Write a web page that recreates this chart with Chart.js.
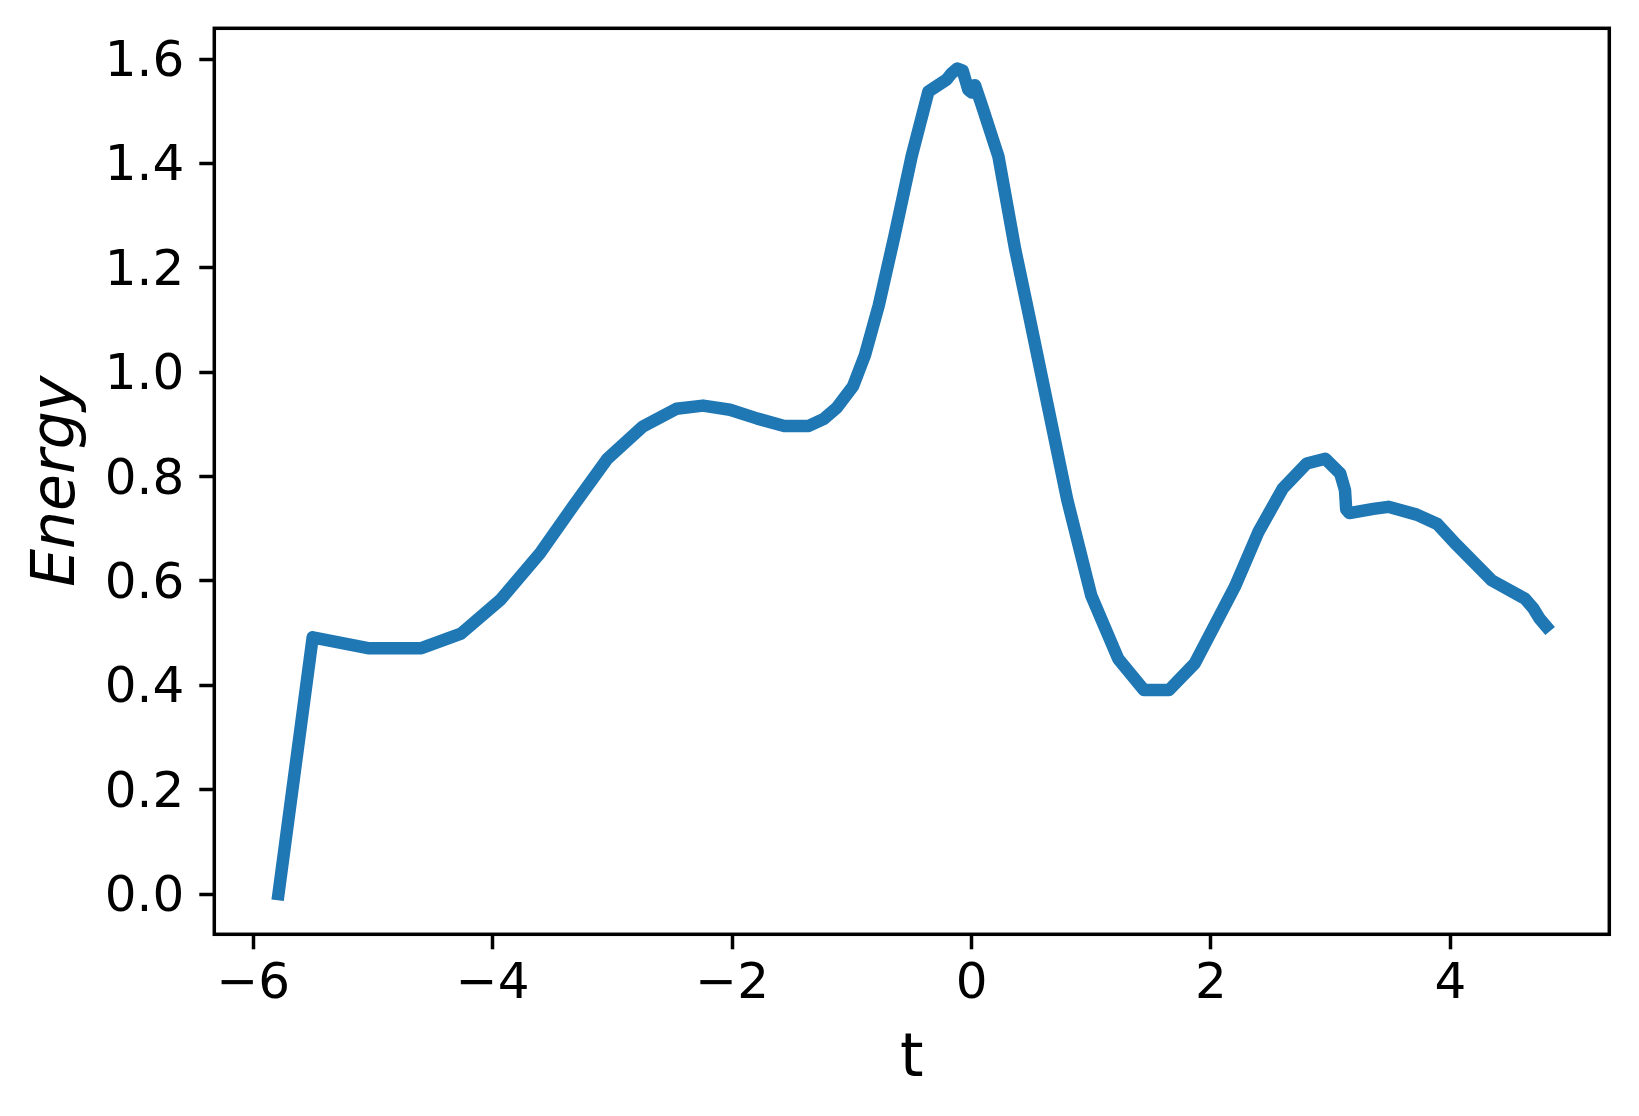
<!DOCTYPE html>
<html>
<head>
<meta charset="utf-8">
<script src="https://cdn.jsdelivr.net/npm/chart.js@4.4.0/dist/chart.umd.min.js"></script>
<style>
html,body{margin:0;padding:0;background:#fff;}
canvas{display:block;}
</style>
</head>
<body>
<canvas id="c" width="1639" height="1116"></canvas>
<script>
// ---- data ----
const tValues = [
  -5.79, -5.504, -5.042, -4.596, -4.265, -3.935, -3.605, -3.323, -3.043, -2.745,
  -2.465, -2.243, -2.018, -1.788, -1.565, -1.36, -1.238, -1.126, -0.99, -0.89,
  -0.775, -0.645, -0.50, -0.36, -0.207, -0.165, -0.119, -0.074, -0.027, 0.002,
  0.029, 0.085, 0.225, 0.365, 0.495, 0.80, 1.00, 1.225, 1.44, 1.65,
  1.865, 2.20, 2.397, 2.60, 2.80, 2.955, 3.08, 3.12, 3.13, 3.157,
  3.357, 3.482, 3.719, 3.891, 4.053, 4.346, 4.624, 4.694, 4.745, 4.80
];
const energyValues = [
  0.0, 0.492, 0.471, 0.471, 0.499, 0.564, 0.653, 0.745, 0.834, 0.896,
  0.930, 0.936, 0.928, 0.911, 0.897, 0.897, 0.910, 0.932, 0.973, 1.033,
  1.128, 1.260, 1.414, 1.538, 1.561, 1.573, 1.582, 1.578, 1.541, 1.536,
  1.550, 1.512, 1.413, 1.235, 1.093, 0.755, 0.572, 0.451, 0.391, 0.391,
  0.442, 0.589, 0.694, 0.777, 0.825, 0.834, 0.806, 0.774, 0.737, 0.730,
  0.738, 0.742, 0.727, 0.709, 0.669, 0.601, 0.566, 0.547, 0.528, 0.513
];
const xTicks = [-6, -4, -2, 0, 2, 4];
const yTicks = [0.0, 0.2, 0.4, 0.6, 0.8, 1.0, 1.2, 1.4, 1.6];
const xRange = [-6.326, 5.328];
const yRange = [-0.0772, 1.659];
const xLabel = 't';
const yLabel = 'Energy';
const seriesLabel = 'Energy';

Chart.defaults.font.family = "'DejaVu Sans', sans-serif";

const framePlugin = {
  id: 'frame',
  afterDatasetsDraw(chart) {
    const {ctx, chartArea: a} = chart;
    ctx.save();
    ctx.strokeStyle = '#000';
    ctx.lineWidth = 3.5;
    ctx.strokeRect(a.left, a.top, a.right - a.left, a.bottom - a.top);
    ctx.restore();
  }
};

const fmtX = v => (v < 0 ? '\u2212' + Math.abs(v) : String(v));
const noPad = s => { s.paddingTop = 0; s.paddingBottom = 0; s.paddingLeft = 0; s.paddingRight = 0; };

new Chart(document.getElementById('c'), {
  type: 'line',
  data: {
    datasets: [{
      label: seriesLabel,
      data: tValues.map((t, i) => ({x: t, y: energyValues[i]})),
      borderColor: '#1f77b4',
      borderWidth: 12.5,
      pointRadius: 0,
      tension: 0,
      fill: false,
      borderCapStyle: 'square',
      borderJoinStyle: 'round'
    }]
  },
  options: {
    responsive: false,
    animation: false,
    devicePixelRatio: 1,
    layout: {padding: {left: 0, right: 29.7, top: 28.3, bottom: 0}},
    plugins: {legend: {display: false}, tooltip: {enabled: false}},
    scales: {
      x: {
        type: 'linear',
        min: xRange[0],
        max: xRange[1],
        afterBuildTicks: s => { s.ticks = xTicks.map(v => ({value: v})); },
        afterFit: s => { s.height = 181.7; noPad(s); },
        grid: {display: true, drawOnChartArea: false, drawTicks: true, tickLength: 15, tickWidth: 3.5, tickColor: '#000'},
        border: {display: false},
        ticks: {color: '#000', font: {size: 50}, padding: 6, maxRotation: 0, autoSkip: false, callback: v => fmtX(v)},
        title: {display: true, text: xLabel, color: '#000', font: {size: 60}, padding: {top: 0, bottom: 20}}
      },
      y: {
        type: 'linear',
        min: yRange[0],
        max: yRange[1],
        afterBuildTicks: s => { s.ticks = yTicks.map(v => ({value: v})); },
        afterFit: s => { s.width = 214.3; noPad(s); },
        grid: {display: true, drawOnChartArea: false, drawTicks: true, tickLength: 15, tickWidth: 3.5, tickColor: '#000'},
        border: {display: false},
        ticks: {color: '#000', font: {size: 50}, padding: 15, labelOffset: 4, autoSkip: false, callback: v => Number(v).toFixed(1)},
        title: {display: true, text: yLabel, color: '#000', font: {size: 60, style: 'italic'}, padding: {top: 22, bottom: 0}}
      }
    }
  },
  plugins: [framePlugin]
});
</script>
</body>
</html>
